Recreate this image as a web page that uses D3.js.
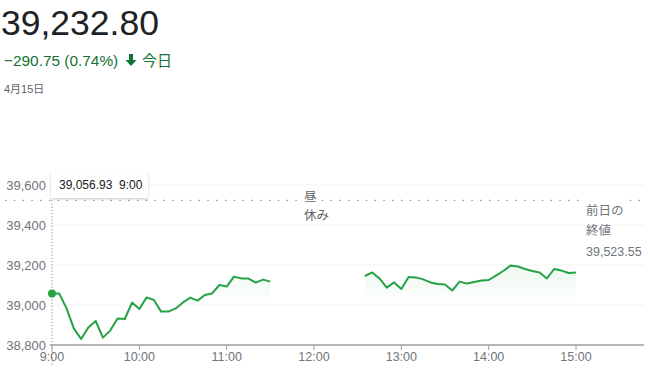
<!DOCTYPE html>
<html><head><meta charset="utf-8">
<script src="https://cdn.jsdelivr.net/npm/d3@7/dist/d3.min.js"></script>
<style>
body{margin:0;background:#fff;}
svg{display:block;font-family:Arial,"Liberation Sans","Noto Sans CJK JP",sans-serif;}
</style></head>
<body><svg id="c" width="650" height="371"></svg>
<script>
const morningStart = "9:00";
const morningValues = [39056.93,39057,38983,38883,38830,38888,38920,38837,38872,38933,38930,39012,38980,39038,39025,38967,38967,38983,39013,39037,39022,39050,39058,39100,39092,39142,39133,39132,39112,39127,39117];
const afternoonStart = "12:35";
const afternoonValues = [39145,39163,39133,39087,39113,39080,39140,39138,39128,39113,39105,39103,39073,39117,39107,39115,39122,39125,39147,39170,39197,39193,39180,39170,39163,39133,39180,39172,39160,39163];
const yTicks = [38800,39000,39200,39400,39600];
const xTickLabels = ["9:00","10:00","11:00","12:00","13:00","14:00","15:00"];
const prevClose = 39523.55;
const lastPrice = "39,232.80";
const changeText = "−290.75 (0.74%)";
const dateText = "4月15日";

const svg = d3.select("#c");
const toMin = s => { const [h,m] = s.split(":").map(Number); return h*60+m; };
const x = d3.scaleLinear().domain([toMin("9:00"), toMin("15:00")]).range([52, 576]);
const y = d3.scaleLinear().domain([38800, 39600]).range([345, 185]);

function series(start, vals){ const s = toMin(start); return vals.map((v,i)=>({t:s+5*i, v})); }
const am = series(morningStart, morningValues);
const pm = series(afternoonStart, afternoonValues);

// Header
svg.append("text").attr("x",1).attr("y",35).attr("font-size",35.5).attr("fill","#202124").text(lastPrice);
svg.append("text").attr("x",4).attr("y",66).attr("font-size",15.4).attr("fill","#137333").text(changeText);
svg.append("path").attr("d","M129,54 L133,54 L133,60 L136.5,60 L131,66 L125.5,60 L129,60 Z").attr("fill","#137333");
svg.append("text").attr("x",142).attr("y",66).attr("font-size",15).attr("fill","#137333").text("今日");
svg.append("text").attr("x",4).attr("y",93).attr("font-size",11).attr("fill","#5f6368").text(dateText);

// Grid
const xEnd = 644;
svg.append("g").selectAll("line").data(yTicks).join("line")
  .attr("x1",50).attr("x2",xEnd).attr("y1",d=>y(d)).attr("y2",d=>y(d))
  .attr("stroke","#f1f3f4").attr("stroke-width",1);
svg.append("g").selectAll("text").data(yTicks).join("text")
  .attr("x",46).attr("y",d=>y(d)+4.5).attr("text-anchor","end").attr("font-size",13).attr("fill","#70757a")
  .text(d=>d3.format(",")(d));

// Gradient
const defs = svg.append("defs");
const g = defs.append("linearGradient").attr("id","gf").attr("gradientUnits","userSpaceOnUse")
  .attr("x1",0).attr("x2",0).attr("y1",y(39200)).attr("y2",y(38990));
g.append("stop").attr("offset",0).attr("stop-color","#34a853").attr("stop-opacity",0.09);
g.append("stop").attr("offset",1).attr("stop-color","#34a853").attr("stop-opacity",0);

const area = d3.area().x(d=>x(d.t)).y0(y(38990)).y1(d=>y(d.v));
const line = d3.line().x(d=>x(d.t)).y(d=>y(d.v));
[am,pm].forEach(s=>{
  svg.append("path").datum(s).attr("d",area).attr("fill","url(#gf)");
});

// Prev close dotted line
svg.append("line").attr("x1",5).attr("x2",645).attr("y1",y(prevClose)).attr("y2",y(prevClose))
  .attr("stroke","#80868b").attr("stroke-width",1.3).attr("stroke-dasharray","1.3,7.5");

// Vertical dotted at 9:00
svg.append("line").attr("x1",x(toMin("9:00"))).attr("x2",x(toMin("9:00"))).attr("y1",y(prevClose)).attr("y2",366)
  .attr("stroke","#80868b").attr("stroke-width",1).attr("stroke-dasharray","1.2,2");

[am,pm].forEach(s=>{
  svg.append("path").datum(s).attr("d",line).attr("fill","none").attr("stroke","#25a244").attr("stroke-width",2).attr("stroke-linejoin","round");
});

// X axis
const ax = svg.append("g");
ax.append("line").attr("x1",50).attr("x2",xEnd).attr("y1",345).attr("y2",345).attr("stroke","#9aa0a6").attr("stroke-width",1.5);
ax.selectAll("line.t").data(xTickLabels).join("line").attr("class","t")
  .attr("x1",d=>x(toMin(d))).attr("x2",d=>x(toMin(d))).attr("y1",345).attr("y2",350).attr("stroke","#9aa0a6");
ax.selectAll("text").data(xTickLabels).join("text")
  .attr("x",d=>x(toMin(d))).attr("y",361).attr("text-anchor","middle").attr("font-size",12.5).attr("fill","#70757a").text(d=>d);

// start dot
svg.append("circle").attr("cx",x(am[0].t)).attr("cy",y(am[0].v)).attr("r",4).attr("fill","#25a244");

// Lunch break label
svg.append("rect").attr("x",302).attr("y",190).attr("width",14).attr("height",16).attr("fill","#fff");
svg.append("text").attr("x",304).attr("y",201).attr("font-size",12.5).attr("fill","#5f6368").text("昼");
svg.append("text").attr("x",304).attr("y",220).attr("font-size",12.5).attr("fill","#5f6368").text("休み");

// Prev close label
svg.append("rect").attr("x",585).attr("y",195).attr("width",40).attr("height",12).attr("fill","#fff");
svg.append("text").attr("x",586).attr("y",215).attr("font-size",12.5).attr("fill","#70757a").text("前日の");
svg.append("text").attr("x",586).attr("y",235).attr("font-size",12.5).attr("fill","#70757a").text("終値");
svg.append("text").attr("x",586).attr("y",256).attr("font-size",12.5).attr("fill","#70757a").text(d3.format(",.2f")(prevClose));

// Tooltip
const tf = defs.append("filter").attr("id","sh").attr("x","-20%").attr("y","-40%").attr("width","140%").attr("height","180%");
tf.append("feDropShadow").attr("dx",0).attr("dy",1).attr("stdDeviation",1.2).attr("flood-color","#000").attr("flood-opacity",0.22);
svg.append("rect").attr("x",51).attr("y",172).attr("width",97).attr("height",26).attr("fill","#fff").attr("filter","url(#sh)");
svg.append("text").attr("x",59).attr("y",189).attr("font-size",12).attr("fill","#202124")
  .text(d3.format(",.2f")(am[0].v) + "  " + morningStart).style("white-space","pre");
</script></body></html>
